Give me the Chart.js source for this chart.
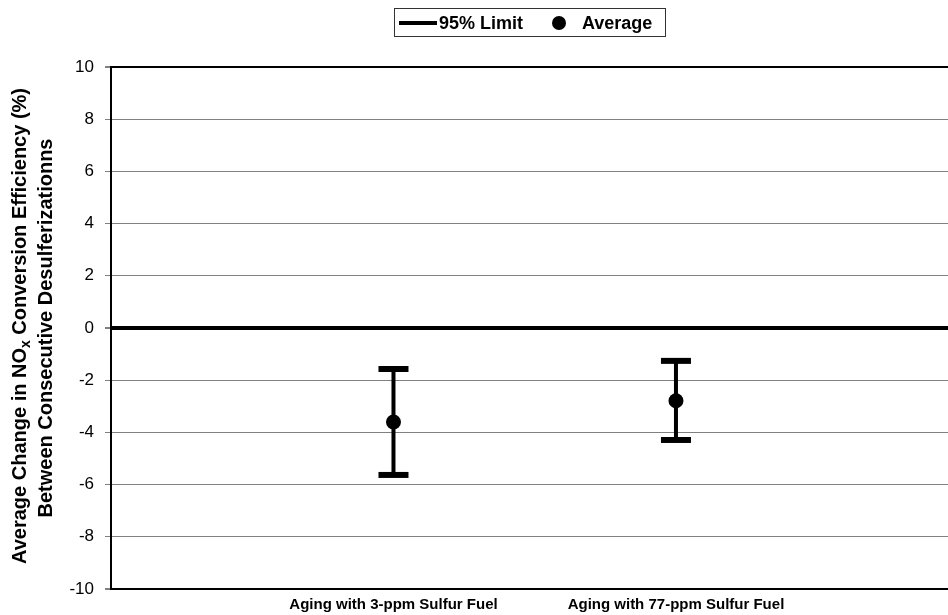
<!DOCTYPE html>
<html>
<head>
<meta charset="utf-8">
<script src="https://cdn.jsdelivr.net/npm/chart.js@4/dist/chart.umd.min.js"></script>
<style>
  html, body { margin: 0; padding: 0; background: #ffffff; overflow: hidden; }
  #wrap { width: 948px; height: 615px; position: relative; }
  #chart { display: block; }
</style>
</head>
<body>
<div id="wrap"><canvas id="chart"></canvas></div>
<script>
// Aging conditions and the change in NOx conversion efficiency (%)
const categories = ['Aging with 3-ppm Sulfur Fuel', 'Aging with 77-ppm Sulfur Fuel'];
const averages = [-3.6, -2.79];
const upperLimits = [-1.57, -1.26];
const lowerLimits = [-5.63, -4.29];
const yTickValues = [-10, -8, -6, -4, -2, 0, 2, 4, 6, 8, 10];

const FONT = '"Liberation Sans", Arial, sans-serif';

// Whiskers: one segment per category, separated by a gap point
const limitPoints = [];
categories.forEach((c, i) => {
  limitPoints.push({ x: i + 1, y: upperLimits[i] });
  limitPoints.push({ x: i + 1, y: lowerLimits[i] });
  limitPoints.push({ x: i + 1.5, y: null });
});
const averagePoints = categories.map((c, i) => ({ x: i + 1, y: averages[i] }));

// Rotated two-line y-axis title with subscript
const yTitlePlugin = {
  id: 'yTitle',
  afterDraw(chart) {
    const ctx = chart.ctx;
    const area = chart.chartArea;
    const cy = (area.top + area.bottom) / 2;
    const big = 'bold 20px ' + FONT;
    const small = 'bold 14px ' + FONT;
    ctx.save();
    ctx.fillStyle = '#000';
    ctx.textBaseline = 'middle';
    ctx.textAlign = 'left';
    // line 1
    const p1 = 'Average Change in NO', p2 = 'x', p3 = ' Conversion Efficiency (%)';
    ctx.font = big; const w1 = ctx.measureText(p1).width, w3 = ctx.measureText(p3).width;
    ctx.font = small; const w2 = ctx.measureText(p2).width;
    const total = w1 + w2 + w3;
    ctx.translate(20, cy - 2);
    ctx.rotate(-Math.PI / 2);
    let x = -total / 2;
    ctx.font = big; ctx.fillText(p1, x, 0); x += w1;
    ctx.font = small; ctx.fillText(p2, x, 6); x += w2;
    ctx.font = big; ctx.fillText(p3, x, 0);
    ctx.restore();
    // line 2
    ctx.save();
    ctx.fillStyle = '#000';
    ctx.textBaseline = 'middle';
    ctx.textAlign = 'center';
    ctx.font = big;
    ctx.translate(46, cy);
    ctx.rotate(-Math.PI / 2);
    ctx.fillText('Between Consecutive Desulferizationns', 0, 0);
    ctx.restore();
  }
};

// Boxed legend at the top
const boxLegendPlugin = {
  id: 'boxLegend',
  afterDraw(chart) {
    const ctx = chart.ctx;
    ctx.save();
    ctx.strokeStyle = '#333';
    ctx.lineWidth = 1;
    ctx.strokeRect(394.5, 8.5, 271, 28);
    const y = 23;
    ctx.strokeStyle = '#000';
    ctx.lineWidth = 4;
    ctx.beginPath(); ctx.moveTo(399, y); ctx.lineTo(437, y); ctx.stroke();
    ctx.fillStyle = '#000';
    ctx.font = 'bold 18px ' + FONT;
    ctx.textBaseline = 'middle';
    ctx.textAlign = 'left';
    ctx.fillText(chart.data.datasets[1].label, 439, y + 1);
    ctx.beginPath(); ctx.arc(559, y, 7, 0, Math.PI * 2); ctx.fill();
    ctx.fillText(chart.data.datasets[0].label, 582, y + 1);
    ctx.restore();
  }
};

const strongLine = v => v === 0 || v === 10 || v === -10;

new Chart(document.getElementById('chart'), {
  type: 'scatter',
  data: {
    datasets: [
      {
        label: 'Average',
        data: averagePoints,
        showLine: false,
        pointStyle: 'circle',
        pointRadius: 7.5,
        pointHoverRadius: 7.5,
        backgroundColor: '#000',
        borderColor: '#000',
        borderWidth: 0
      },
      {
        label: '95% Limit',
        data: limitPoints,
        showLine: true,
        spanGaps: false,
        borderColor: '#000',
        borderWidth: 4,
        pointStyle: 'line',
        pointRadius: 15,
        pointHoverRadius: 15,
        pointBorderWidth: 6,
        pointBorderColor: '#000',
        pointBackgroundColor: '#000'
      }
    ]
  },
  options: {
    responsive: true,
    maintainAspectRatio: false,
    animation: false,
    events: [],
    layout: { autoPadding: false, padding: { top: 67, left: 0, right: 0, bottom: 0 } },
    plugins: {
      legend: { display: false },
      tooltip: { enabled: false }
    },
    scales: {
      x: {
        type: 'linear',
        min: 0,
        max: 2.963,
        afterBuildTicks(scale) { scale.ticks = categories.map((c, i) => ({ value: i + 1 })); },
        afterFit(scale) { scale.height = 26; },
        grid: { display: false, drawTicks: false },
        border: { display: true, color: '#000', width: 2 },
        ticks: {
          callback: v => categories[v - 1] || '',
          color: '#000',
          font: { family: FONT, size: 15, weight: 'bold' },
          padding: 7,
          maxRotation: 0,
          autoSkip: false
        }
      },
      y: {
        min: -10,
        max: 10,
        afterBuildTicks(scale) { scale.ticks = yTickValues.map(v => ({ value: v })); },
        afterFit(scale) { scale.width = 111; },
        grid: {
          color: ctx => strongLine(ctx.tick.value) ? '#000' : '#808080',
          lineWidth: ctx => ctx.tick.value === 0 ? 4 : (strongLine(ctx.tick.value) ? 2 : 1),
          tickColor: ctx => strongLine(ctx.tick.value) ? '#000' : '#808080',
          tickWidth: 1,
          tickLength: 6,
          drawTicks: true
        },
        border: { display: true, color: '#000', width: 2 },
        ticks: {
          color: '#000',
          font: { family: FONT, size: 17 },
          padding: 11
        }
      }
    }
  },
  plugins: [yTitlePlugin, boxLegendPlugin]
});
</script>
</body>
</html>
